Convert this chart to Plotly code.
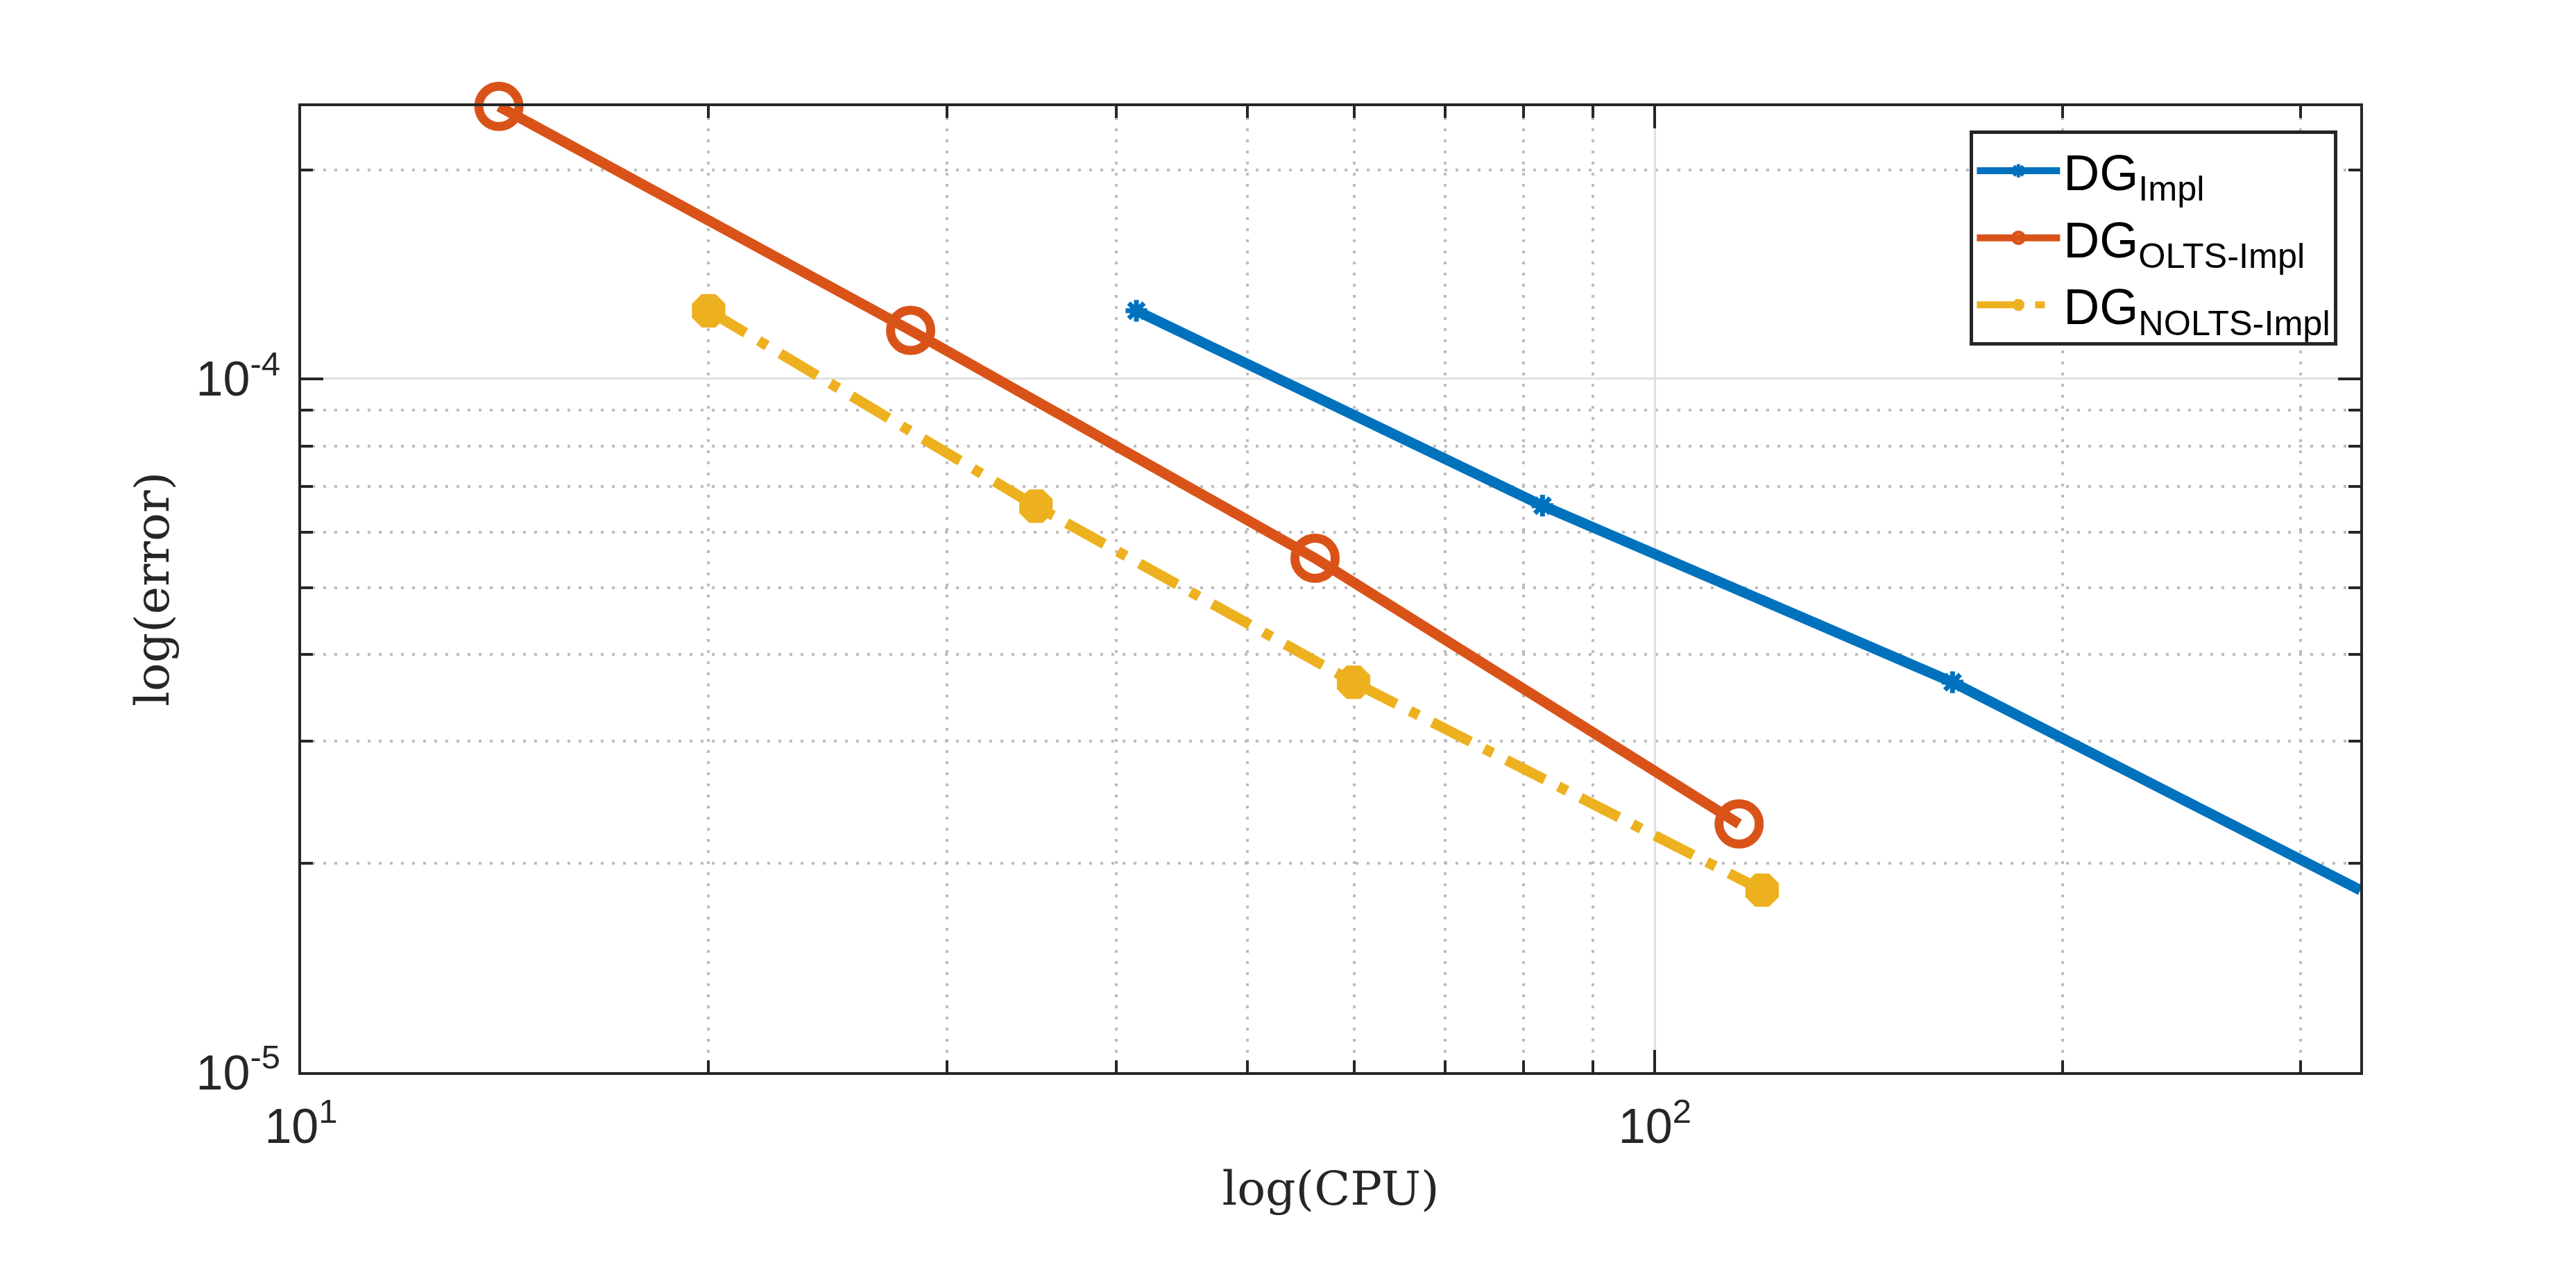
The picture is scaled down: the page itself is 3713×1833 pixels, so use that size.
import plotly.graph_objects as go

# CPU time vs error
cpu_impl = [41.4, 82.6, 165.9, 332.0]
err_impl = [1.253e-4, 6.56e-5, 3.65e-5, 1.83e-5]

cpu_olts = [14.0, 28.2, 56.1, 115.4]
err_olts = [2.47e-4, 1.174e-4, 5.51e-5, 2.28e-5]

cpu_nolts = [20.0, 34.9, 59.9, 120.0]
err_nolts = [1.253e-4, 6.55e-5, 3.65e-5, 1.83e-5]

names = ["DG<sub>Impl</sub>", "DG<sub>OLTS-Impl</sub>", "DG<sub>NOLTS-Impl</sub>"]

x_ticks = [10, 100]
x_ticktext = ["10<sup>1</sup>", "10<sup>2</sup>"]
x_minor = [20, 30, 40, 50, 60, 70, 80, 90, 200, 300]
y_ticks = [1e-5, 1e-4]
y_ticktext = ["10<sup>-5</sup>", "10<sup>-4</sup>"]
y_minor = [2e-5, 3e-5, 4e-5, 5e-5, 6e-5, 7e-5, 8e-5, 9e-5, 2e-4]

blue = "#0072BD"
orange = "#D95319"
yellow = "#EDB120"
axcol = "#262626"

fig = go.Figure()
fig.add_trace(go.Scatter(
    x=cpu_impl, y=err_impl, name=names[0], mode="lines+markers",
    line=dict(color=blue, width=15),
    marker=dict(symbol="asterisk", size=26, color=blue, line=dict(color=blue, width=7)),
    cliponaxis=False))
fig.add_trace(go.Scatter(
    x=cpu_olts, y=err_olts, name=names[1], mode="lines+markers",
    line=dict(color=orange, width=15),
    marker=dict(symbol="circle-open", size=58, color=orange, line=dict(color=orange, width=13)),
    cliponaxis=False))
fig.add_trace(go.Scatter(
    x=cpu_nolts, y=err_nolts, name=names[2], mode="lines+markers",
    line=dict(color=yellow, width=15, dash="62px,22px,14px,22px"),
    marker=dict(symbol="octagon", size=50, color=yellow, line=dict(color=yellow, width=2)),
    cliponaxis=False))

axis_common = dict(
    type="log", showline=True, linecolor=axcol, linewidth=4, mirror="allticks",
    ticks="inside", ticklen=32, tickwidth=4, tickcolor=axcol,
    showgrid=True, gridcolor="#e0e0e0", gridwidth=3,
    tickfont=dict(family="Liberation Sans, Arial, sans-serif", size=70, color=axcol),
    zeroline=False,
)
minor_common = dict(tickmode="array", ticks="inside", ticklen=17, tickwidth=4,
                    tickcolor=axcol, showgrid=True, gridcolor="#bcbcbc", gridwidth=4,
                    griddash="4px,12px")

title_font = dict(family="DejaVu Serif, serif", size=68, color=axcol)

fig.update_xaxes(
    **axis_common, range=[1, 2.521], tickmode="array", tickvals=x_ticks, ticktext=x_ticktext,
    ticklabelstandoff=14,
    minor=dict(**minor_common, tickvals=x_minor),
    title=dict(text="log(CPU)", standoff=28, font=title_font))
fig.update_yaxes(
    **axis_common, range=[-5, -3.607], tickmode="array", tickvals=y_ticks, ticktext=y_ticktext,
    ticklabelstandoff=12,
    minor=dict(**minor_common, tickvals=y_minor),
    title=dict(text="log(error)", standoff=18, font=title_font))

fig.update_layout(
    width=3713, height=1833,
    margin=dict(l=426, r=319, t=145, b=296),
    plot_bgcolor="white", paper_bgcolor="white",
    legend=dict(x=0.989, y=0.975, xanchor="right", yanchor="top",
                bgcolor="white", bordercolor=axcol, borderwidth=5,
                font=dict(family="Liberation Sans, Arial, sans-serif", size=72, color="black"),
                itemwidth=120),
)

fig.write_html("out.html")
